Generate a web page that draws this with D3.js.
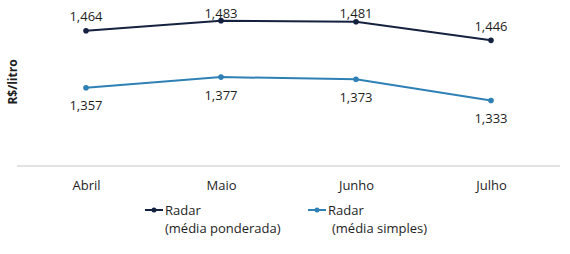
<!DOCTYPE html>
<html>
<head>
<meta charset="utf-8">
<script src="https://cdn.jsdelivr.net/npm/d3@7"></script>
<style>
    body { margin: 0; background: #fff; }
    svg text { font-family: "Open Sans", "Noto Sans", sans-serif; fill: #1e1e1e; }
</style>
</head>
<body>
<div id="root"></div>
<script>
// chart data
const months = ['Abril', 'Maio', 'Junho', 'Julho'];
const ponderada = [1.464, 1.483, 1.481, 1.446];
const simples = [1.357, 1.377, 1.373, 1.333];
const seriesNames = [['Radar', '(média ponderada)'], ['Radar', '(média simples)']];

let width = 570,
    height = 254,
    darkColor = '#14213f',
    lightColor = '#2f80b5';

let svg = d3.select('#root').append('svg')
    .attr('width', width)
    .attr('height', height);

let x = d3.scalePoint().domain(months).range([86, 491]),
    y = d3.scaleLinear().domain([1.21, 1.5]).range([166, 11.6]);

let fmt = v => d3.format('.3f')(v).replace('.', ',');

// baseline
svg.append('line')
    .attr('x1', 17).attr('x2', 560)
    .attr('y1', y(1.21)).attr('y2', y(1.21))
    .attr('stroke', '#d9d9d9')
    .attr('stroke-width', 1.5);

// month labels
let xAxis = svg.append('g')
    .attr('transform', 'translate(0,' + y(1.21) + ')')
    .call(d3.axisBottom(x).tickSize(0).tickPadding(15));
xAxis.select('.domain').remove();
xAxis.selectAll('text')
    .style('font-size', '13px')
    .style('font-family', '"Open Sans", "Noto Sans", sans-serif')
    .attr('fill', '#1e1e1e');

// y title
svg.append('text')
    .attr('transform', 'translate(17,82) rotate(-90)')
    .attr('text-anchor', 'middle')
    .style('font-size', '12px')
    .style('font-weight', 'bold')
    .text('R$/litro');

let line = d3.line()
    .x((d, i) => x(months[i]))
    .y(d => y(d));

[[ponderada, darkColor, -14], [simples, lightColor, 18]].forEach(function ([vals, color, off]) {
    let g = svg.append('g');
    g.append('path')
        .datum(vals)
        .attr('d', line)
        .attr('fill', 'none')
        .attr('stroke', color)
        .attr('stroke-width', 2);
    g.selectAll('circle')
        .data(vals)
        .enter()
        .append('circle')
        .attr('cx', (d, i) => x(months[i]))
        .attr('cy', d => y(d))
        .attr('r', 2.8)
        .attr('fill', color);
    // labels pushed inside the top edge like the original
    g.selectAll('text')
        .data(vals)
        .enter()
        .append('text')
        .attr('x', (d, i) => x(months[i]))
        .attr('y', d => Math.max(y(d) + off, 13))
        .attr('dy', '0.35em')
        .attr('text-anchor', 'middle')
        .style('font-size', '13px')
        .text(d => fmt(d));
});

// legend
let legendX = [145, 308],
    legendColors = [darkColor, lightColor];
let legend = svg.selectAll('.legendItem')
    .data(seriesNames)
    .enter()
    .append('g')
    .attr('class', 'legendItem')
    .attr('transform', (d, i) => 'translate(' + legendX[i] + ',210)');
legend.append('line')
    .attr('x1', 0).attr('x2', 18)
    .attr('stroke', (d, i) => legendColors[i])
    .attr('stroke-width', 2);
legend.append('circle')
    .attr('cx', 9)
    .attr('r', 2.5)
    .attr('fill', (d, i) => legendColors[i]);
legend.each(function (d, i) {
    d3.select(this).selectAll('text')
        .data(d)
        .enter()
        .append('text')
        .attr('x', (t, j) => j == 0 ? 20 : 20 + i * 4)
        .attr('y', (t, j) => j * 18)
        .attr('dy', '0.35em')
        .style('font-size', '13px')
        .text(t => t);
});
</script>
</body>
</html>
